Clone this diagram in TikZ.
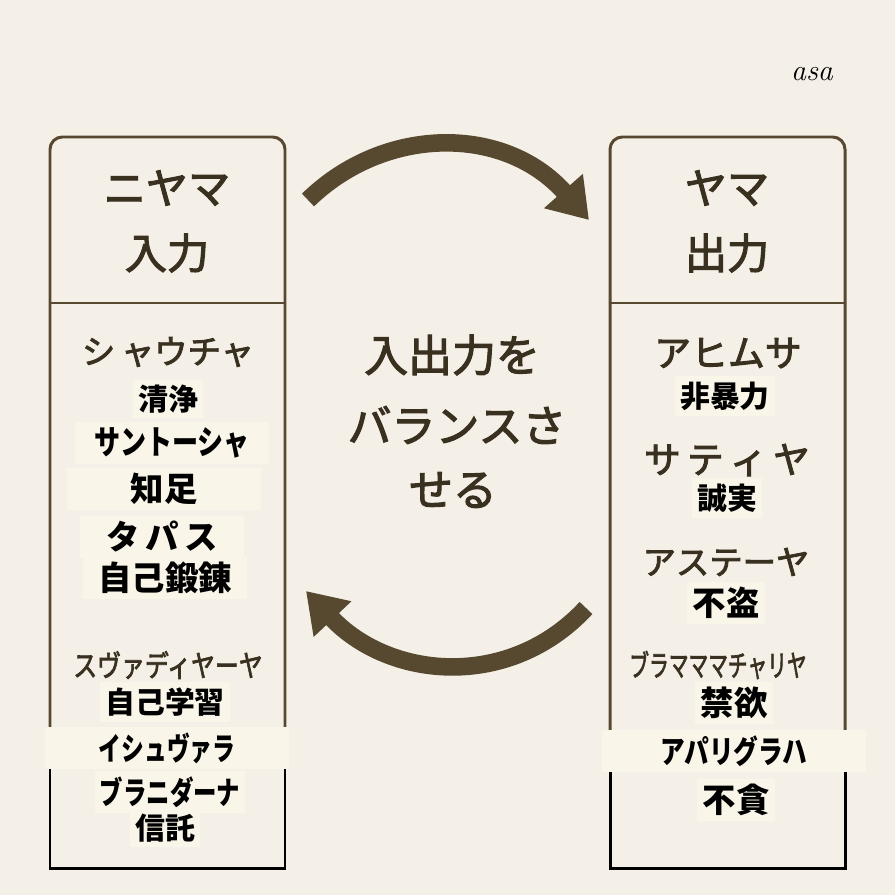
\documentclass[tikz,border=0pt]{standalone}
\usepackage{fontspec}
\newfontfamily\jpfont[FakeBold=2.5]{Noto Sans CJK JP}
\newfontfamily\jpbold{Noto Sans CJK JP}
\usetikzlibrary{arrows.meta}
\definecolor{paper}{HTML}{F4F0E7}
\definecolor{patch}{HTML}{FAF5E9}
\definecolor{umber}{HTML}{574830}
\definecolor{ink}{HTML}{3A3020}
\newcommand{\fs}[1]{\fontsize{#1}{#1}\selectfont}
\newcommand{\squeeze}[2]{\scalebox{#1}[1]{#2}}
\tikzset{
  % frames
  frame/.style={draw=umber, line width=1.7pt, rounded corners=7pt},
  framebase/.style={draw=black, line width=1.7pt},
  % texts
  head/.style={font=\jpfont\fs{24}, text=ink},
  kana/.style={font=\jpfont\fs{#1}, text=ink, inner sep=1pt},
  kana/.default={19},
  kanji/.style={font=\jpbold\bfseries\fs{#1}, text=black, fill=patch, inner sep=3pt},
  kanji/.default={17},
  blackkana/.style={font=\jpbold\bfseries\fs{#1}, text=black, fill=patch, inner sep=3pt},
  blackkana/.default={17},
  centre/.style={font=\jpfont\fs{25}, text=ink},
  % arrows
  arc/.style={draw=umber, line width=10pt, -{Triangle[length=22pt, width=28pt]}},
}
\begin{document}
\begin{tikzpicture}[x=0.02cm, y=-0.02cm]
    \useasboundingbox[fill=paper] (0,0) rectangle (895,895);

    % Niyama box
    \draw[frame] (50,742) -- (50,137) -- (285,137) -- (285,742);
    \draw[framebase] (50,742) -- (50,868) -- (285,868) -- (285,742);
    \draw[umber, line width=1.7pt] (50,303) -- (285,303);

    % Yama box
    \draw[frame] (610,735) -- (610,137) -- (845,137) -- (845,735);
    \draw[framebase] (610,735) -- (610,868) -- (845,868) -- (845,735);
    \draw[umber, line width=1.7pt] (610,303) -- (845,303);

    % headers
    \node[head] (niyama) at (167,188) {ニヤマ};
    \node[head] (input) at (167,253) {入力};
    \node[head] (yama) at (727,188) {ヤマ};
    \node[head] (output) at (727,253) {出力};

    % Niyama list
    \node[kana] (shaucha) at (168,352) {シ\,ャウチャ};
    \node[kanji] (seijo) at (168,399) {清浄};
    \node[blackkana=19, minimum width=3.9cm] (santosha) at (172,443) {\squeeze{0.78}{サントーシャ}};
    \node[kanji=19, minimum width=3.9cm] (chisoku) at (164,489) {知足};
    \node[blackkana=19, minimum width=3.3cm] (tapas) at (162,537) {タ\,パ\,ス};
    \node[kanji=19, minimum width=3.3cm] (tanren) at (165,578) {自己鍛錬};
    \node[kana=17] (svadhyaya) at (168,665) {\squeeze{0.8}{スヴァディヤーヤ}};
    \node[kanji] (gakushu) at (165,702) {自己学習};
    \node[blackkana=18, minimum width=4.9cm] (ishvara) at (167,748) {\squeeze{0.72}{イシュヴァラ}};
    \node[blackkana=18] (pranidhana) at (170,792) {\squeeze{0.74}{ブラニダーナ}};
    \node[kanji] (shintaku) at (165,828) {信託};

    % Yama list
    \node[kana=21] (ahimsa) at (728,353) {アヒムサ};
    \node[kanji] (hiboryoku) at (725,396) {非暴力};
    \node[kana=21] (satya) at (727,460) {サ\,テ\,ィ\,ヤ};
    \node[kanji] (seijitsu) at (727,498) {誠実};
    \node[kana] (asteya) at (726,562) {アステーヤ};
    \node[kanji=19] (futo) at (726,603) {不盗};
    \node[kana=17] (brahmacharya) at (718,665) {\squeeze{0.66}{ブラマママチャリヤ}};
    \node[kanji=19] (kinyoku) at (734,703) {禁欲};
    \node[blackkana=18, minimum width=5.3cm] (aparigraha) at (734,751) {\squeeze{0.78}{アパリグラハ}};
    \node[kanji=19] (fudon) at (736,800) {不貪};

    % centre text
    \node[centre] (balance1) at (452,355) {入出力を};
    \node[centre] (balance2) at (457,425) {バランスさ};
    \node[centre] (balance3) at (453,490) {せる};

    % arrows
    \coordinate (topstart) at (308,200);
    \coordinate (topend) at (589,220);
    \coordinate (botstart) at (586,608);
    \coordinate (botend) at (306,591);
    \draw[arc] (topstart) .. controls (385,125) and (505,125) .. (topend);
    \draw[arc] (botstart) .. controls (510,690) and (390,680) .. (botend);

    % signature
    \node[font=\itshape\fs{17}] (sign) at (812,74) {asa};
\end{tikzpicture}
\end{document}
